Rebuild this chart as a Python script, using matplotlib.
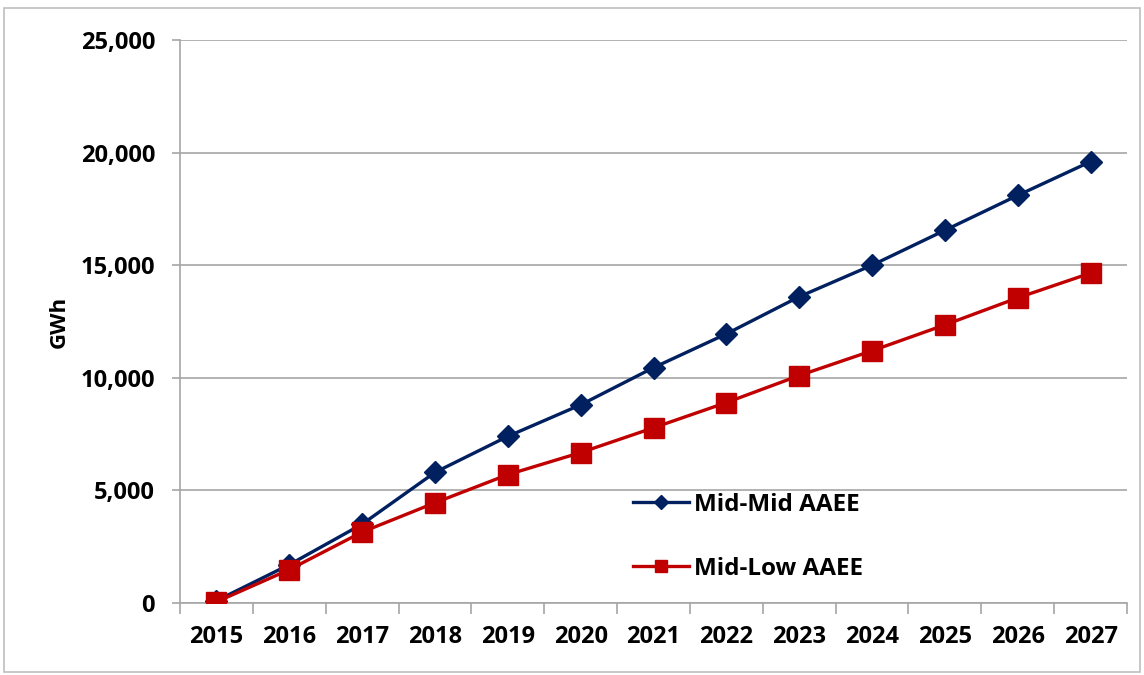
import matplotlib.pyplot as plt
from matplotlib.patches import Rectangle
from matplotlib.ticker import FuncFormatter, MultipleLocator

years = ['2015', '2016', '2017', '2018', '2019', '2020', '2021',
         '2022', '2023', '2024', '2025', '2026', '2027']
mid_mid = [100, 1700, 3500, 5800, 7400, 8800, 10450, 11950, 13600, 15000, 16550, 18100, 19600]
mid_low = [50, 1480, 3150, 4450, 5700, 6680, 7780, 8900, 10100, 11200, 12350, 13550, 14650]

plt.rcParams['font.family'] = ['Open Sans', 'DejaVu Sans']
plt.rcParams['font.weight'] = 'bold'

fig = plt.figure(figsize=(11.44, 6.75), dpi=100)
ax = fig.add_axes([180 / 1144, 1 - 603 / 675, 947 / 1144, 563 / 675])

# cadre gris autour de la figure
fig.patches.append(Rectangle((4 / 1144, 3 / 675), 1136 / 1144, 664 / 675,
                             transform=fig.transFigure, fill=False,
                             edgecolor='#bfbfbf', linewidth=1.2))

x = list(range(len(years)))
ax.plot(x, mid_mid, color='#002060', linewidth=2.4, marker='D',
        markersize=11.5, label='Mid-Mid AAEE', zorder=3)
ax.plot(x, mid_low, color='#c00000', linewidth=2.4, marker='s',
        markersize=14, label='Mid-Low AAEE', zorder=4)

ax.set_xlim(-0.5, len(years) - 0.5)
ax.set_ylim(0, 25000)
ax.set_xticks(x)
ax.set_xticklabels(years)
ax.xaxis.set_minor_locator(MultipleLocator(1, offset=0.5))
ax.tick_params(axis='x', which='major', length=0, pad=16, labelsize=17)
ax.tick_params(axis='x', which='minor', length=8, color='#a6a6a6', width=1.2, direction='out')
ax.yaxis.set_major_locator(MultipleLocator(5000))
ax.yaxis.set_major_formatter(FuncFormatter(lambda v, p: f'{int(v):,}'))
ax.tick_params(axis='y', length=6, color='#a6a6a6', width=1.2, pad=12, labelsize=17)
ax.grid(axis='y', color='#a6a6a6', linewidth=1.2)
ax.set_axisbelow(True)

for s in ['top', 'right']:
    ax.spines[s].set_visible(False)
for s in ['left', 'bottom']:
    ax.spines[s].set_color('#a6a6a6')
    ax.spines[s].set_linewidth(1.2)

ax.set_ylabel('GWh', fontsize=16, fontweight='bold', labelpad=8)

ax.legend(loc='upper left', bbox_to_anchor=(0.455, 0.235), frameon=False,
          fontsize=17.5, markerscale=0.65, labelspacing=1.65,
          handlelength=2.3, handletextpad=0.2)

fig.savefig('out.png', dpi=100)
